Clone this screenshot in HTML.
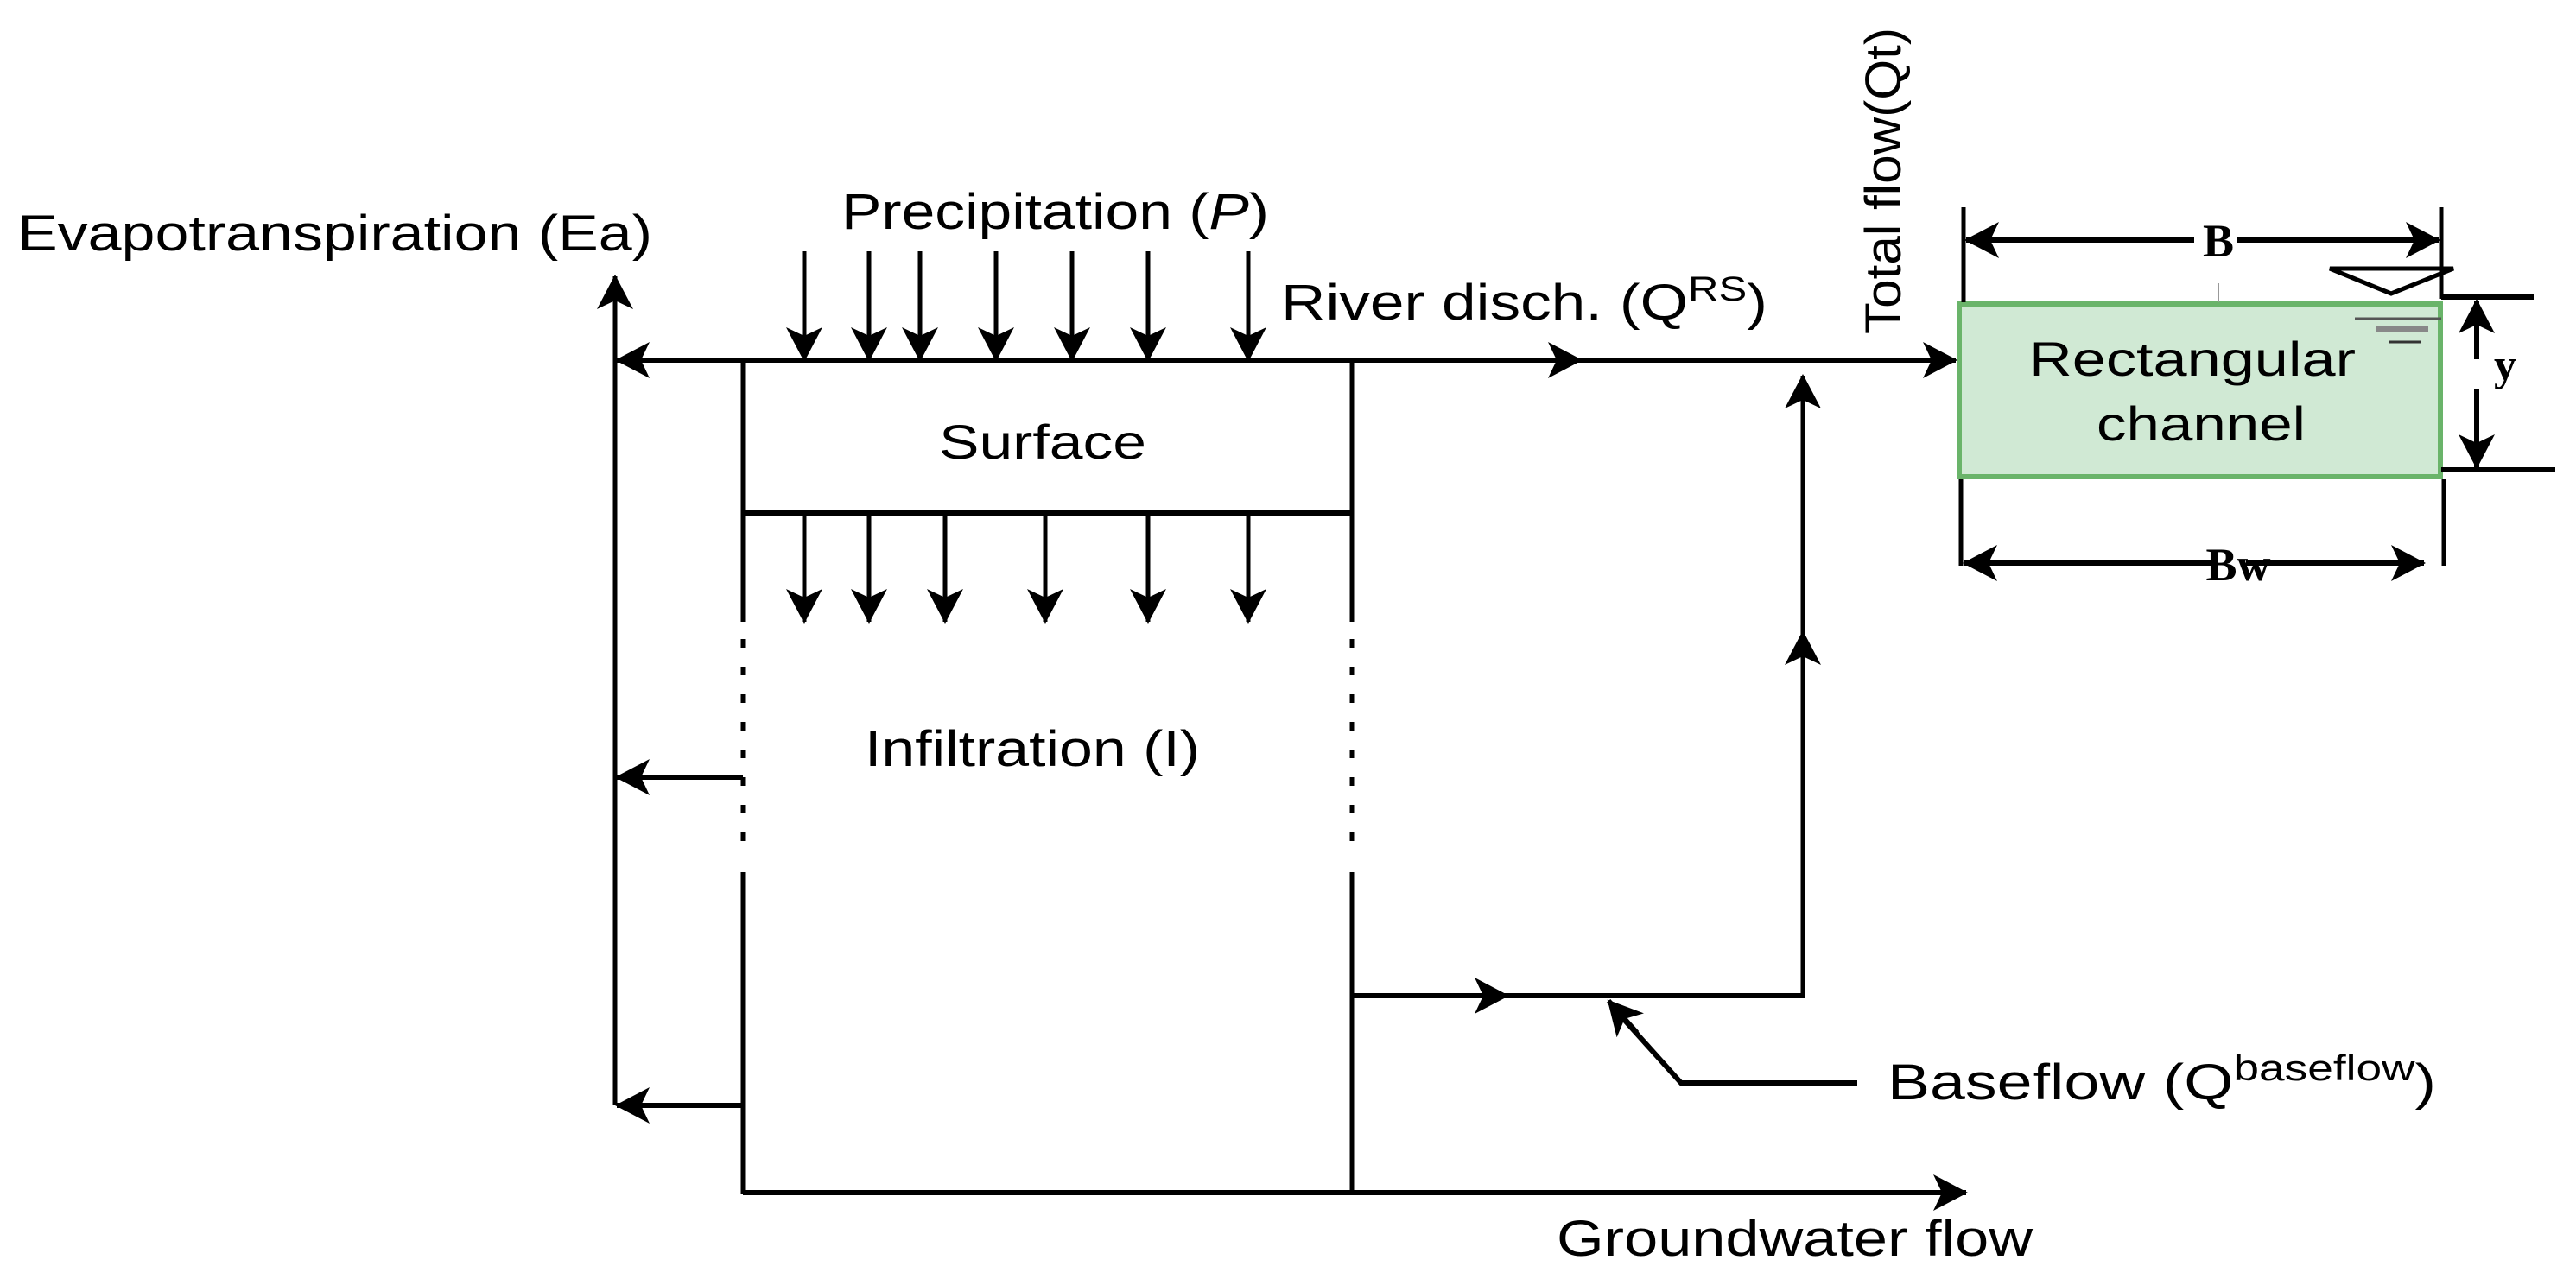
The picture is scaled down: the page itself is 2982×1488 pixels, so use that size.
<!DOCTYPE html>
<html><head><meta charset="utf-8"><style>
html,body{margin:0;padding:0;background:#fff;}
svg{display:block;}
text{font-family:"Liberation Sans",sans-serif;fill:#000;}
.s{font-family:"Liberation Serif",serif;font-weight:bold;}
</style></head><body>
<svg width="2982" height="1488" viewBox="0 0 2982 1488" xmlns="http://www.w3.org/2000/svg">
<defs>
<marker id="a" viewBox="0 0 40 42" refX="38" refY="21" markerWidth="40" markerHeight="42" markerUnits="userSpaceOnUse" orient="auto">
<path d="M0,0 L40,21 L0,42 L10,21 Z" fill="#000"/></marker>
</defs>
<g stroke="#000" stroke-width="5" fill="none">
<line x1="712" y1="1280" x2="712" y2="320" marker-end="url(#a)"/>
<line x1="1565" y1="417" x2="714" y2="417" marker-end="url(#a)" stroke-width="6"/>
<line x1="1565" y1="417" x2="1830" y2="417" marker-end="url(#a)" stroke-width="6"/>
<line x1="1830" y1="417" x2="2264" y2="417" marker-end="url(#a)" stroke-width="6"/>
<line x1="860" y1="417" x2="860" y2="720"/>
<line x1="1565" y1="417" x2="1565" y2="720"/>
<line x1="860" y1="594" x2="1565" y2="594" stroke-width="7"/>
<line x1="860" y1="740" x2="860" y2="996" stroke-dasharray="10,22"/>
<line x1="1565" y1="740" x2="1565" y2="996" stroke-dasharray="10,22"/>
<line x1="860" y1="1010" x2="860" y2="1383"/>
<line x1="1565" y1="1010" x2="1565" y2="1383"/>
<line x1="860" y1="1381" x2="2276" y2="1381" marker-end="url(#a)" stroke-width="6"/>
<line x1="860" y1="900" x2="714" y2="900" marker-end="url(#a)" stroke-width="6"/>
<line x1="860" y1="1280" x2="714" y2="1280" marker-end="url(#a)" stroke-width="6"/>
<line x1="931" y1="291" x2="931" y2="417" marker-end="url(#a)"/>
<line x1="1006" y1="291" x2="1006" y2="417" marker-end="url(#a)"/>
<line x1="1065" y1="291" x2="1065" y2="417" marker-end="url(#a)"/>
<line x1="1153" y1="291" x2="1153" y2="417" marker-end="url(#a)"/>
<line x1="1241" y1="291" x2="1241" y2="417" marker-end="url(#a)"/>
<line x1="1329" y1="291" x2="1329" y2="417" marker-end="url(#a)"/>
<line x1="1445" y1="291" x2="1445" y2="417" marker-end="url(#a)"/>
<line x1="931" y1="597" x2="931" y2="720" marker-end="url(#a)"/>
<line x1="1006" y1="597" x2="1006" y2="720" marker-end="url(#a)"/>
<line x1="1094" y1="597" x2="1094" y2="720" marker-end="url(#a)"/>
<line x1="1210" y1="597" x2="1210" y2="720" marker-end="url(#a)"/>
<line x1="1329" y1="597" x2="1329" y2="720" marker-end="url(#a)"/>
<line x1="1445" y1="597" x2="1445" y2="720" marker-end="url(#a)"/>
<line x1="1565" y1="1153" x2="1745" y2="1153" marker-end="url(#a)" stroke-width="6"/>
<line x1="1745" y1="1153" x2="2089" y2="1153" stroke-width="6"/>
<line x1="2087" y1="1156" x2="2087" y2="732" marker-end="url(#a)"/>
<line x1="2087" y1="732" x2="2087" y2="435" marker-end="url(#a)"/>
<polyline points="2150,1254 1946,1254 1875,1175" stroke-width="6"/>
<line x1="1895" y1="1196" x2="1862" y2="1159" marker-end="url(#a)" stroke-width="6"/>
</g>
<rect x="2268" y="352" width="557" height="200" fill="#d0e9d4" stroke="#6ab46a" stroke-width="6"/>
<g stroke="#000" stroke-width="5" fill="none">
<line x1="2273" y1="240" x2="2273" y2="350"/>
<line x1="2826" y1="240" x2="2826" y2="346"/>
<line x1="2826" y1="344" x2="2933" y2="344" stroke-width="6"/>
<line x1="2826" y1="544" x2="2958" y2="544" stroke-width="6"/>
<line x1="2270" y1="555" x2="2270" y2="655"/>
<line x1="2829" y1="555" x2="2829" y2="655"/>
<line x1="2540" y1="278" x2="2276" y2="278" marker-end="url(#a)" stroke-width="6"/>
<line x1="2590" y1="278" x2="2823" y2="278" marker-end="url(#a)" stroke-width="6"/>
<line x1="2560" y1="652" x2="2274" y2="652" marker-end="url(#a)" stroke-width="6"/>
<line x1="2600" y1="652" x2="2806" y2="652" marker-end="url(#a)" stroke-width="6"/>
<line x1="2867" y1="416" x2="2867" y2="348" marker-end="url(#a)" stroke-width="6"/>
<line x1="2867" y1="450" x2="2867" y2="541" marker-end="url(#a)" stroke-width="6"/>
<polygon points="2697,311 2840,311 2768,340" stroke-width="5"/>
<line x1="2568" y1="328" x2="2568" y2="350" stroke="#999" stroke-width="2"/>
<line x1="2726" y1="369" x2="2826" y2="369" stroke="#555" stroke-width="3"/>
<line x1="2751" y1="381" x2="2811" y2="381" stroke="#888" stroke-width="6"/>
<line x1="2765" y1="396" x2="2803" y2="396" stroke="#333" stroke-width="3"/>
</g>
<text x="20" y="290" font-size="58" textLength="735" lengthAdjust="spacingAndGlyphs">Evapotranspiration (Ea)</text>
<text x="974" y="265" font-size="58" textLength="495" lengthAdjust="spacingAndGlyphs">Precipitation (<tspan font-style="italic">P</tspan>)</text>
<text x="1483" y="370" font-size="58" textLength="563" lengthAdjust="spacingAndGlyphs">River disch. (Q<tspan font-size="40" dy="-22">RS</tspan><tspan dy="22">)</tspan></text>
<text x="2200" y="387" font-size="58" transform="rotate(-90 2200 387)" textLength="355" lengthAdjust="spacingAndGlyphs">Total flow(Qt)</text>
<text x="1207" y="531" font-size="56" text-anchor="middle" textLength="240" lengthAdjust="spacingAndGlyphs">Surface</text>
<text x="1001" y="887" font-size="58" textLength="388" lengthAdjust="spacingAndGlyphs">Infiltration (I)</text>
<text x="2185" y="1273" font-size="58" textLength="635" lengthAdjust="spacingAndGlyphs">Baseflow (Q<tspan font-size="42" dy="-22">baseflow</tspan><tspan dy="22">)</tspan></text>
<text x="1802" y="1454" font-size="58" textLength="551" lengthAdjust="spacingAndGlyphs">Groundwater flow</text>
<text x="2348" y="435" font-size="56" textLength="379" lengthAdjust="spacingAndGlyphs">Rectangular</text>
<text x="2427" y="510" font-size="56" textLength="242" lengthAdjust="spacingAndGlyphs">channel</text>
<text class="s" x="2568" y="297" font-size="54" text-anchor="middle">B</text>
<text class="s" x="2591" y="672" font-size="54" text-anchor="middle">Bw</text>
<text class="s" x="2900" y="440" font-size="52" text-anchor="middle">y</text>
</svg>
</body></html>
